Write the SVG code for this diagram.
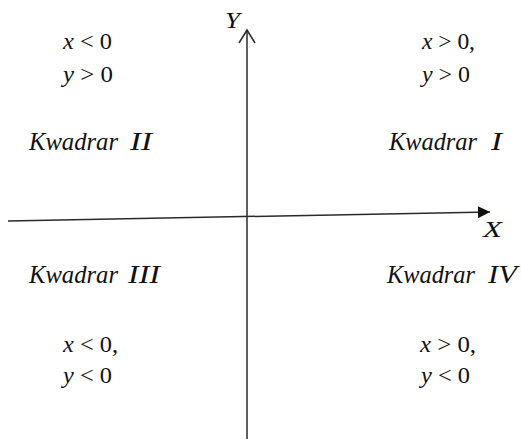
<svg xmlns="http://www.w3.org/2000/svg" width="521" height="439" viewBox="0 0 521 439">
<style>
text{font-family:"Liberation Serif",serif;font-size:23px;fill:#111}
.i{font-style:italic}
.k{font-size:25px}
.ax{stroke:#2a2a2a;stroke-width:1.5;fill:none}
</style>
<defs>
<marker id="tri" markerWidth="12" markerHeight="12" refX="10" refY="5" orient="auto" markerUnits="userSpaceOnUse" viewBox="0 0 10 10">
<path d="M0,0 L10,5 L0,10 Z" fill="#111"/>
</marker>
</defs>
<rect width="521" height="439" fill="#fff"/>
<g id="connectors">
<line class="ax" x1="8" y1="221" x2="490" y2="212" marker-end="url(#tri)"/>
<line class="ax" x1="247" y1="439" x2="247" y2="31"/>
<polyline class="ax" points="239,43 247,30 255,43"/>
</g>
<g id="axis-labels">
<text class="i" x="225" y="28" textLength="15" lengthAdjust="spacingAndGlyphs">Y</text>
<text class="i" x="483" y="237" textLength="19" lengthAdjust="spacingAndGlyphs">X</text>
</g>
<g id="q2">
<text x="63" y="49" textLength="49" lengthAdjust="spacingAndGlyphs"><tspan class="i">x</tspan> &lt; 0</text>
<text x="63" y="82" textLength="50" lengthAdjust="spacingAndGlyphs"><tspan class="i">y</tspan> &gt; 0</text>
<text class="i k" x="29" y="150" textLength="89" lengthAdjust="spacingAndGlyphs">Kwadrar</text>
<text class="i k" x="130" y="150" textLength="22" lengthAdjust="spacingAndGlyphs">II</text>
</g>
<g id="q1">
<text x="422" y="49" textLength="53" lengthAdjust="spacingAndGlyphs"><tspan class="i">x</tspan> &gt; 0,</text>
<text x="422" y="82" textLength="48" lengthAdjust="spacingAndGlyphs"><tspan class="i">y</tspan> &gt; 0</text>
<text class="i k" x="389" y="150" textLength="88" lengthAdjust="spacingAndGlyphs">Kwadrar</text>
<text class="i k" x="491" y="150" textLength="11" lengthAdjust="spacingAndGlyphs">I</text>
</g>
<g id="q3">
<text class="i k" x="29" y="283" textLength="89" lengthAdjust="spacingAndGlyphs">Kwadrar</text>
<text class="i k" x="128" y="283" textLength="32" lengthAdjust="spacingAndGlyphs">III</text>
<text x="63" y="352" textLength="55" lengthAdjust="spacingAndGlyphs"><tspan class="i">x</tspan> &lt; 0,</text>
<text x="63" y="383" textLength="49" lengthAdjust="spacingAndGlyphs"><tspan class="i">y</tspan> &lt; 0</text>
</g>
<g id="q4">
<text class="i k" x="387" y="283" textLength="88" lengthAdjust="spacingAndGlyphs">Kwadrar</text>
<text class="i k" x="488" y="283" textLength="29" lengthAdjust="spacingAndGlyphs">IV</text>
<text x="420" y="352" textLength="56" lengthAdjust="spacingAndGlyphs"><tspan class="i">x</tspan> &gt; 0,</text>
<text x="421" y="383" textLength="49" lengthAdjust="spacingAndGlyphs"><tspan class="i">y</tspan> &lt; 0</text>
</g>
</svg>
